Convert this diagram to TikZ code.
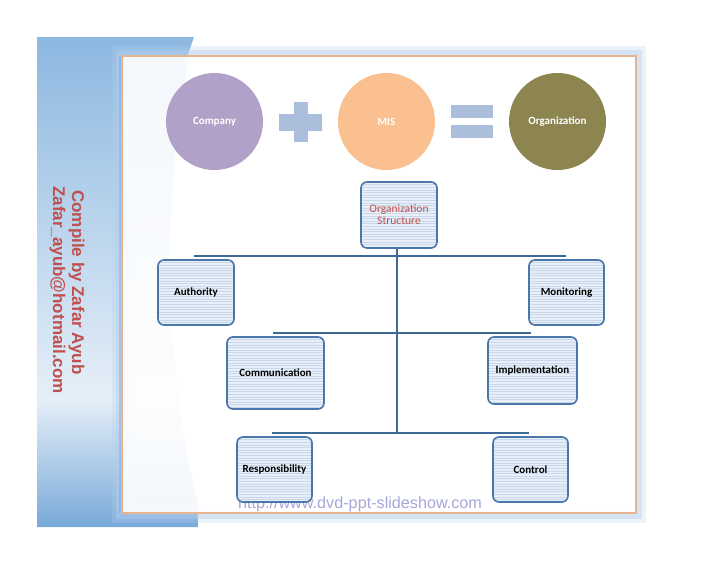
\documentclass[tikz,border=0pt]{standalone}
\usepackage{fontspec}
\setmainfont{Carlito}
\newfontfamily\arialf{Liberation Sans}
\usetikzlibrary{shapes.geometric,calc}
\definecolor{bandT}{HTML}{8CB8E0}
\definecolor{bandM}{HTML}{E6EFF8}
\definecolor{bandB}{HTML}{78A9D8}
\definecolor{glowc}{HTML}{B3CFEE}
\definecolor{glowd}{HTML}{6FA3D8}
\definecolor{framec}{HTML}{E6B48E}
\definecolor{compc}{HTML}{B1A0C7}
\definecolor{misc}{HTML}{FAC08F}
\definecolor{orgc}{HTML}{8D8550}
\definecolor{signc}{HTML}{ABBFDC}
\definecolor{boxd}{HTML}{4A76AA}
\definecolor{boxf}{HTML}{E8EFF8}
\definecolor{boxl}{HTML}{C9D7EA}
\definecolor{treec}{HTML}{3F6995}
\definecolor{redt}{HTML}{C0504D}
\definecolor{urlc}{HTML}{A7A8DA}
\tikzset{
  circ/.style={circle, minimum size=97pt, inner sep=0pt, text=white, font=\fontsize{11}{12}\selectfont\bfseries},
  lined/.style={rectangle, rounded corners=6pt, draw=boxd, line width=1.6pt, fill=boxf,
    inner sep=1pt, align=center, font=\fontsize{11}{13}\selectfont\bfseries,
    path picture={\foreach \k in {1,...,30}{\draw[boxl, line width=0.6pt]
      ([yshift=-\k*2.6pt]path picture bounding box.north west) --
      ([yshift=-\k*2.6pt]path picture bounding box.north east);}}},
  tree/.style={draw=treec, line width=2pt},
  sign/.style={fill=signc},
  credit/.style={rotate=-90, text=redt, font=\arialf\bfseries\fontsize{17}{19}\selectfont, inner sep=0pt},
}
\begin{document}
\begin{tikzpicture}[x=1pt,y=-1pt]
\useasboundingbox (0,0) rectangle (728,563);
\fill[white] (0,0) rectangle (728,563);
% left band
\begin{scope}
\clip (37,37) -- (194,37) -- (186,60) -- (198,527) -- (37,527) -- cycle;
\shade[top color=bandT, bottom color=bandM] (37,37) rectangle (200,400);
\shade[top color=bandM, bottom color=bandB] (37,399) rectangle (200,527);
\end{scope}
% glow around frame
\draw[glowc, line width=20pt, opacity=0.25] (122,56) rectangle (636,513);
\draw[glowc, line width=12pt, opacity=0.4] (122,56) rectangle (636,513);
\draw[glowd, line width=6pt, opacity=0.35] (122,513) -- (122,56);
\fill[white, opacity=0.9] (122,56) rectangle (636,513);
\fill[white] (190,58) .. controls (160,200) and (165,380) .. (200,511) -- (634,511) -- (634,58) -- cycle;
\draw[framec, line width=2pt] (122,56) rectangle (636,513);
% vertical credit text
\node[credit] (cred1) at (76.5,282.5) {Compile by Zafar Ayub};
\node[credit] (cred2) at (57.5,290) {Zafar\_ayub@hotmail.com};
% equation row
\node[circ, fill=compc] (comp) at (214.5,121.5) {Company};
\node[circ, fill=misc] (mis) at (386.5,121.5) {MIS};
\node[circ, fill=orgc] (org) at (557.5,121.5) {Organization};
\fill[sign] (293.5,102) rectangle (307.5,142);
\fill[sign] (279,113.5) rectangle (322,130.5);
\fill[sign] (451,105) rectangle (493,118);
\fill[sign] (451,125) rectangle (493,138);
% url (behind the boxes)
\node[text=urlc, font=\arialf\fontsize{16.2}{17}\selectfont, inner sep=0pt, anchor=base] (url) at (360,508) {http://www.dvd-ppt-slideshow.com};
% org chart
\node[lined, minimum width=76pt, minimum height=66pt, text=redt, font=\fontsize{11.5}{12}\selectfont]
  (os) at (399,215) {Organization\\Structure};
\node[lined, minimum width=76pt, minimum height=65pt] (auth) at (196,292.5) {Authority};
\node[lined, minimum width=75pt, minimum height=65pt] (mon) at (566.5,292.5) {Monitoring};
\node[lined, minimum width=97pt, minimum height=72pt] (comm) at (275.5,373) {Communication};
\node[lined, minimum width=89pt, minimum height=67pt] (impl) at (532.5,370.5) {Implementation};
\node[lined, minimum width=75pt, minimum height=65pt] (resp) at (274.5,469.5) {Responsibility};
\node[lined, minimum width=75pt, minimum height=65pt] (ctrl) at (530.5,469.5) {Control};
% tree lines
\coordinate (l1a) at (194,256);
\coordinate (l1b) at (566,256);
\coordinate (l2a) at (273,333);
\coordinate (l2b) at (531,333);
\coordinate (l3a) at (272,433);
\coordinate (l3b) at (529,433);
\draw[tree] ([xshift=-2pt]os.south) -- ([xshift=-2pt]os.south |- l3a);
\draw[tree] (l1a) -- (l1b);
\draw[tree] (l2a) -- (l2b);
\draw[tree] (l3a) -- (l3b);
\end{tikzpicture}
\end{document}
